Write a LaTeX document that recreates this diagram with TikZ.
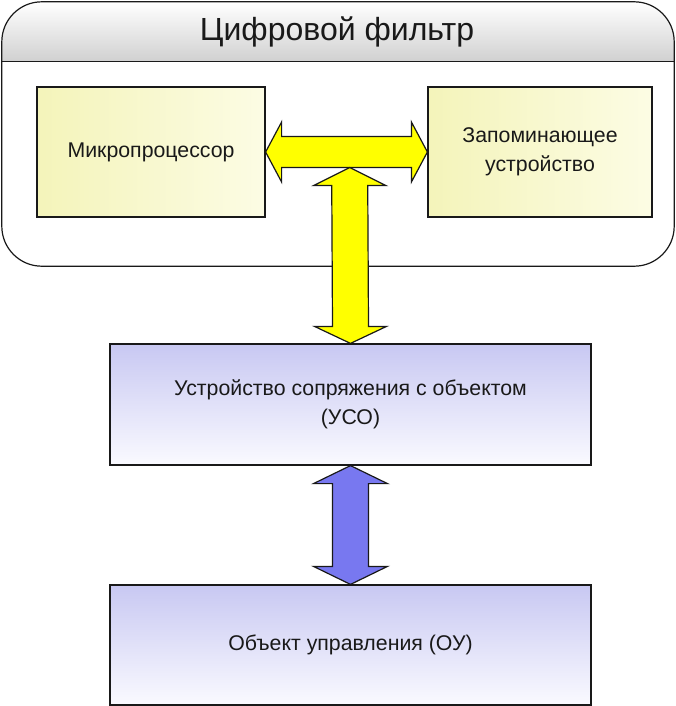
\documentclass[tikz,border=0pt]{standalone}
\usepackage{fontspec}
\setmainfont{Liberation Sans}
\usetikzlibrary{calc}
\definecolor{ylA}{RGB}{244,244,186}
\definecolor{ylB}{RGB}{252,252,228}
\definecolor{lvA}{RGB}{200,200,242}
\definecolor{lvB}{RGB}{250,250,255}
\definecolor{hdA}{RGB}{255,255,255}
\definecolor{hdB}{RGB}{208,208,208}
\definecolor{arY}{RGB}{255,255,0}
\definecolor{arB}{RGB}{120,120,240}
\definecolor{edge}{RGB}{25,25,25}
\tikzset{
  box/.style={draw=edge, line width=1.2pt, inner sep=0pt, align=center,
              font=\fontsize{21.3}{29}\selectfont, text=black!90},
  ybox/.style={box, left color=ylA, right color=ylB},
  lbox/.style={box, top color=lvA, bottom color=lvB},
  barrow/.style={draw=edge, line width=1.2pt, line join=miter},
}
\begin{document}
\begin{tikzpicture}[x=1pt,y=-1pt]
\useasboundingbox (0,0) rectangle (676,706);
% container
\node[draw=none, minimum width=672pt, minimum height=264pt, inner sep=0pt] (filt) at (338,134) {};
\begin{scope}
  \clip[rounded corners=40pt] (filt.north west) rectangle (filt.south east);
  \fill[white] (filt.north west) rectangle (filt.south east);
  \shade[top color=hdA, bottom color=hdB] (filt.north west) rectangle ($(filt.north east)+(0,60)$);
\end{scope}
\draw[edge, line width=1.2pt] ($(filt.north west)+(0,60)$) -- ($(filt.north east)+(0,60)$);
\draw[edge, line width=1.2pt, rounded corners=40pt] (filt.north west) rectangle (filt.south east);
\node[font=\fontsize{32}{36}\selectfont, text=black!90] (title) at (337,32) {Цифровой фильтр};
% boxes
\node[ybox, minimum width=228pt, minimum height=130pt] (mp) at (151,152) {Микропроцессор};
\node[ybox, minimum width=224pt, minimum height=130pt] (mem) at (540,152) {Запоминающее\\устройство};
\node[lbox, minimum width=481pt, minimum height=121pt] (uso) at (350.5,404.5) {Устройство сопряжения с объектом\\(УСО)};
\node[lbox, minimum width=481pt, minimum height=120pt] (ou) at (350.5,645) {Объект управления (ОУ)};
% horizontal yellow bus arrow
\draw[barrow, fill=arY] (mp.east) -- ++(16,-30) -- ++(0,14.5) -- ($(mem.west)+(-16,-15.5)$) -- ++(0,-14.5)
  -- (mem.west) -- ++(-16,30) -- ++(0,-14.5) -- ($(mp.east)+(16,15.5)$) -- ++(0,14.5) -- cycle;
\coordinate (busT) at ($(mp.east)!0.52!(mem.west)+(0,15.5)$);
% vertical yellow arrow
\draw[barrow, fill=arY] (busT) -- ++(36,18) -- ++(-18,0) -- ($(uso.north)+(18,-17)$) -- ++(18,0)
  -- (uso.north) -- ++(-36,-17) -- ++(18,0) -- ($(busT)+(-18,18)$) -- ++(-18,0) -- cycle;
% blue arrow
\draw[barrow, fill=arB] (uso.south) -- ++(37,18) -- ++(-19,0) -- ($(ou.north)+(18,-18)$) -- ++(19,0)
  -- (ou.north) -- ++(-37,-18) -- ++(19,0) -- ($(uso.south)+(-18,18)$) -- ++(-19,0) -- cycle;
\end{tikzpicture}
\end{document}
